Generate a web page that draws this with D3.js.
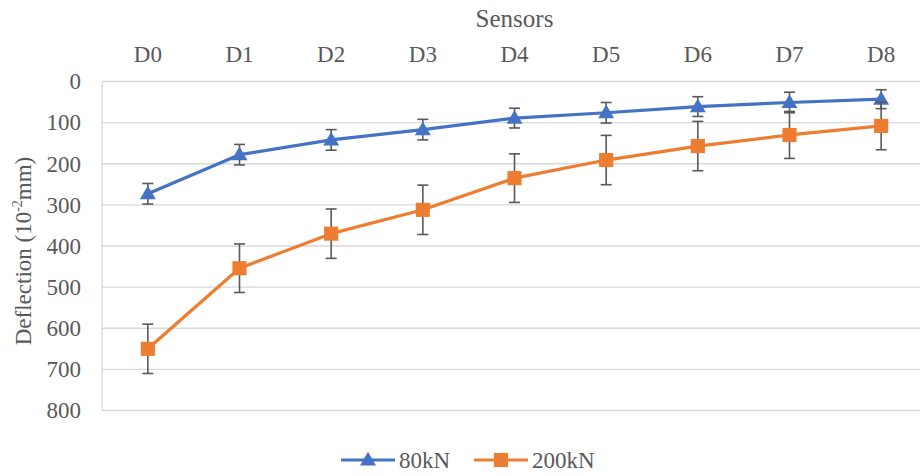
<!DOCTYPE html>
<html>
<head>
<meta charset="utf-8">
<script src="https://cdn.jsdelivr.net/npm/d3@7"></script>
</head>
<body style="margin:0">
<svg id="chart" width="920" height="476" style="font-family:'Times New Roman'"></svg>
<script>
const categories = ["D0", "D1", "D2", "D3", "D4", "D5", "D6", "D7", "D8"];
const seriesNames = ["80kN", "200kN"];
const values80 = [273, 178, 142, 117, 89, 76, 61, 51, 43];
const errors80 = [25, 25, 25, 25, 24, 25, 24, 25, 23];
const values200 = [650, 454, 370, 312, 235, 191, 157, 130, 108];
const errors200 = [60, 59, 60, 60, 59, 60, 60, 57, 58];
const yTicks = [0, 100, 200, 300, 400, 500, 600, 700, 800];

const TXT = "#595959";
const svg = d3.select("#chart");
const pLeft = 102, pRight = 927, pTop = 81.5, pBottom = 410.5;

const x = d3.scalePoint().domain(categories).range([pLeft, pRight]).padding(0.5);
const y = d3.scaleLinear().domain([0, 800]).range([pTop, pBottom]);
const colors = ["#4472C4", "#ED7D31"];

function addText(parent, size) {
  return parent.append("text").style("font-family", "'Times New Roman'")
    .style("font-size", size + "px").style("fill", TXT);
}

// gridlines
svg.append("g").selectAll("line").data(yTicks).join("line")
  .attr("x1", pLeft).attr("x2", pRight)
  .attr("y1", d => y(d)).attr("y2", d => y(d))
  .attr("stroke", "#d9d9d9").attr("stroke-width", 1.3);
svg.append("line").attr("x1", pLeft).attr("x2", pLeft)
  .attr("y1", y(0)).attr("y2", y(800))
  .attr("stroke", "#d9d9d9").attr("stroke-width", 1.3);

// y tick labels (from the scale's ticks)
const gy = svg.append("g");
yTicks.forEach(t => {
  addText(gy, 23).attr("x", pLeft - 21).attr("y", y(t)).attr("dy", "0.34em")
    .attr("text-anchor", "end").text(y.tickFormat(10)(t));
});

// x tick labels at top (from the point scale)
const gx = svg.append("g");
categories.forEach(c => {
  addText(gx, 23).attr("x", x(c)).attr("y", 62).attr("text-anchor", "middle").text(c);
});

// axis titles
addText(svg, 25).attr("x", (pLeft + pRight) / 2).attr("y", 27)
  .attr("text-anchor", "middle").text("Sensors");

const yt = addText(svg, 23)
  .attr("transform", `translate(31,${(pTop + pBottom) / 2 + 5}) rotate(-90)`)
  .attr("text-anchor", "middle");
yt.append("tspan").text("Deflection (10");
yt.append("tspan").style("font-size", "14px").attr("dy", -9).text("-2");
yt.append("tspan").attr("dy", 9).text("mm)");

const data = [
  { name: seriesNames[0], vals: values80, errs: errors80, color: colors[0], marker: d3.symbolTriangle },
  { name: seriesNames[1], vals: values200, errs: errors200, color: colors[1], marker: d3.symbolSquare }
];

const line = d3.line().x((d, i) => x(categories[i])).y(d => y(d));

data.forEach(s => {
  const g = svg.append("g");
  const eb = g.append("g").attr("stroke", "#595959").attr("stroke-width", 1.6);
  s.vals.forEach((v, i) => {
    const cx = x(categories[i]);
    const y1 = y(v - s.errs[i]), y2 = y(v + s.errs[i]);
    eb.append("line").attr("x1", cx).attr("x2", cx).attr("y1", y1).attr("y2", y2);
    eb.append("line").attr("x1", cx - 5.5).attr("x2", cx + 5.5).attr("y1", y1).attr("y2", y1);
    eb.append("line").attr("x1", cx - 5.5).attr("x2", cx + 5.5).attr("y1", y2).attr("y2", y2);
  });
  g.append("path").datum(s.vals).attr("d", line)
    .attr("fill", "none").attr("stroke", s.color).attr("stroke-width", 3.2)
    .attr("stroke-linejoin", "round");
  g.selectAll(".m").data(s.vals).join("path")
    .attr("transform", (d, i) => `translate(${x(categories[i])},${y(d) + (s.marker === d3.symbolTriangle ? 1 : 0)})`)
    .attr("d", d3.symbol().type(s.marker).size(s.marker === d3.symbolTriangle ? 110 : 200))
    .attr("fill", s.color);
});

// legend
const legendItems = [
  { x0: 341, color: colors[0], marker: d3.symbolTriangle, label: seriesNames[0] },
  { x0: 474, color: colors[1], marker: d3.symbolSquare, label: seriesNames[1] }
];
const ly = 460;
legendItems.forEach(it => {
  svg.append("line").attr("x1", it.x0).attr("x2", it.x0 + 54).attr("y1", ly).attr("y2", ly)
    .attr("stroke", it.color).attr("stroke-width", 3.2);
  svg.append("path").attr("transform", `translate(${it.x0 + 27},${ly + (it.marker === d3.symbolTriangle ? 1 : 0)})`)
    .attr("d", d3.symbol().type(it.marker).size(it.marker === d3.symbolTriangle ? 110 : 200))
    .attr("fill", it.color);
  addText(svg, 23).attr("x", it.x0 + 58).attr("y", ly + 8).text(it.label);
});
</script>
</body>
</html>
